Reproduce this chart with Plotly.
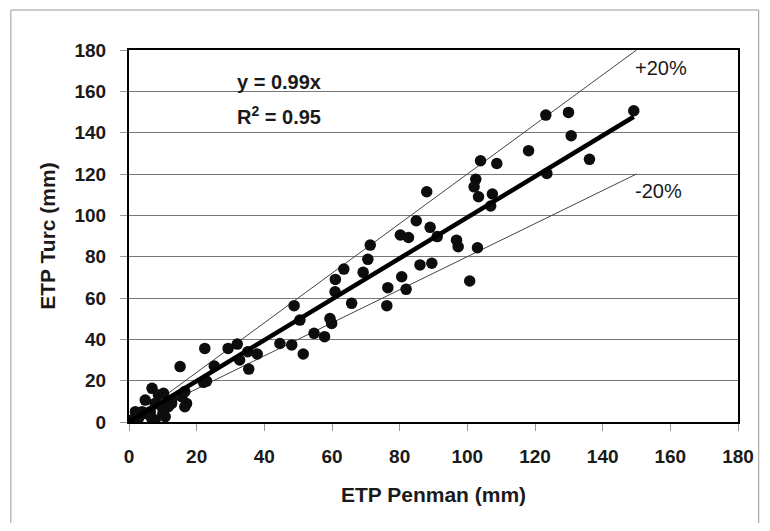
import plotly.graph_objects as go

# ---- data ----
etp_penman = [149.2, 123.2, 129.9, 130.7, 118.1, 136.1, 123.5, 108.7, 103.9, 102.5,
              102.0, 103.3, 107.4, 106.9, 88.0, 84.9, 89.0, 80.2, 82.6, 91.1,
              71.3, 96.8, 97.3, 103.0, 70.6, 63.5, 69.2, 61.0, 86.0, 89.5,
              80.6, 81.9, 76.5, 100.7, 60.9, 65.8, 76.2, 48.8, 50.5, 59.4,
              59.9, 54.7, 57.8, 44.6, 48.1, 51.5, 22.4, 29.3, 32.0, 35.1,
              37.9, 32.7, 35.4, 25.2, 15.1, 22.0, 22.9, 16.5, 15.6, 17.0,
              16.5, 12.6, 6.8, 4.8, 8.7, 10.2, 7.7, 9.7, 1.9, 3.9,
              6.3, 2.8, 6.7, 0.9, 12.6, 11.6, 10.7, 7.7, 5.2, 10.0]
etp_turc = [150.6, 148.5, 149.8, 138.5, 131.3, 127.1, 120.3, 125.1, 126.4, 117.4,
            113.8, 109.0, 110.3, 104.5, 111.4, 97.4, 94.2, 90.5, 89.3, 89.7,
            85.6, 88.0, 84.8, 84.3, 78.7, 74.0, 72.4, 69.0, 76.0, 76.8,
            70.3, 64.2, 65.0, 68.2, 63.0, 57.4, 56.3, 56.3, 49.3, 50.1,
            47.7, 42.9, 41.3, 38.0, 37.3, 32.9, 35.6, 35.6, 37.7, 34.0,
            32.9, 30.0, 25.6, 27.1, 26.8, 19.2, 19.8, 14.7, 12.2, 9.0,
            7.4, 9.0, 16.3, 10.6, 13.1, 13.9, 9.0, 7.4, 5.0, 5.0,
            5.0, 1.8, 1.8, 1.0, 10.6, 7.4, 2.6, 1.0, 4.0, 4.0]
slope = 0.99
r2 = 0.95
band = 0.20
band_xmax = 150
tick_vals = list(range(0, 181, 20))

FONT = "Liberation Sans, Arial, sans-serif"

fit_x = [0, max(etp_penman)]
fit_y = [slope * v for v in fit_x]
up_x = [0, band_xmax]
up_y = [(1 + band) * v for v in up_x]
lo_y = [(1 - band) * v for v in up_x]

fig = go.Figure()
fig.add_trace(go.Scatter(x=up_x, y=up_y, mode="lines",
                         line=dict(color="#444", width=1), hoverinfo="skip"))
fig.add_trace(go.Scatter(x=up_x, y=lo_y, mode="lines",
                         line=dict(color="#444", width=1), hoverinfo="skip"))
fig.add_trace(go.Scatter(x=etp_penman, y=etp_turc, mode="markers",
                         marker=dict(color="#0d0d10", size=11.5, line=dict(width=0))))
fig.add_trace(go.Scatter(x=fit_x, y=fit_y, mode="lines",
                         line=dict(color="#000", width=4.5), hoverinfo="skip"))

axis_common = dict(
    range=[0, 180], tickvals=tick_vals, ticks="outside", ticklen=7,
    tickcolor="#999", showline=True, linecolor="#000", linewidth=2,
    mirror=True, zeroline=False,
    tickfont=dict(family=FONT, size=19, color="#1a1a1a", weight="bold"),
)

fig.update_layout(
    width=758, height=515,
    margin=dict(l=121, r=24, t=42, b=101),
    paper_bgcolor="white", plot_bgcolor="white",
    showlegend=False,
    xaxis=dict(**axis_common, showgrid=False, ticklabelstandoff=9,
               title=dict(text="ETP Penman (mm)", standoff=22,
                          font=dict(family=FONT, size=21, color="#1a1a1a", weight="bold"))),
    yaxis=dict(**axis_common, showgrid=True, gridcolor="#777", gridwidth=1,
               ticklabelstandoff=10,
               title=dict(text="ETP Turc (mm)", standoff=13,
                          font=dict(family=FONT, size=21, color="#1a1a1a", weight="bold"))),
    annotations=[
        dict(x=44.3, y=164.5, xref="x", yref="y", text=f"y = {slope}x", showarrow=False,
             font=dict(family=FONT, size=20, color="#1a1a1a", weight="bold")),
        dict(x=44.3, y=148.5, xref="x", yref="y", text=f"R<sup>2</sup> = {r2}", showarrow=False,
             font=dict(family=FONT, size=20, color="#1a1a1a", weight="bold")),
        dict(x=149.0, y=171.5, xref="x", yref="y", text="+20%", showarrow=False,
             xanchor="left", font=dict(family=FONT, size=20, color="#1a1a1a")),
        dict(x=149.0, y=112, xref="x", yref="y", text="-20%", showarrow=False,
             xanchor="left", font=dict(family=FONT, size=20, color="#1a1a1a")),
    ],
    shapes=[
        dict(type="rect", xref="paper", yref="paper",
             x0=-0.194, x1=1.034, y0=-0.31, y1=1.1075,
             line=dict(color="#999", width=1), fillcolor="rgba(0,0,0,0)", layer="below"),
    ],
)

fig.write_html("out.html")
